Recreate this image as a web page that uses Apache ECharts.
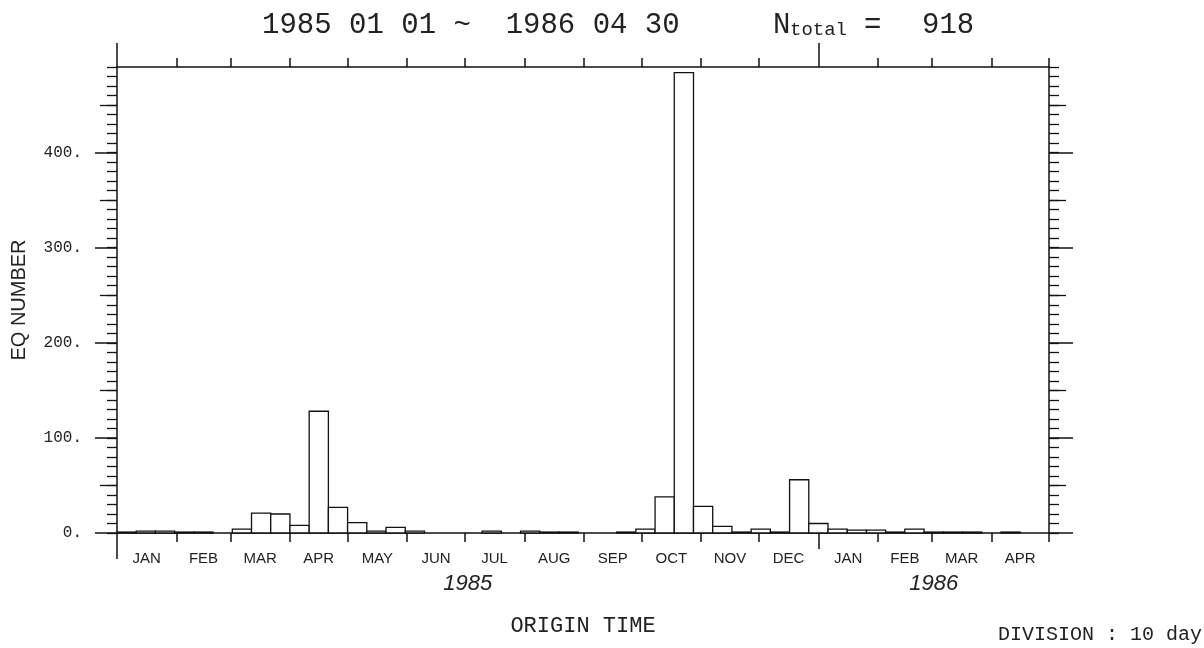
<!DOCTYPE html>
<html>
<head>
<meta charset="utf-8">
<script src="https://cdn.jsdelivr.net/npm/echarts@6/dist/echarts.min.js"></script>
<style>
html,body{margin:0;padding:0;background:#fff;}
#chart{width:1204px;height:648px;}
</style>
</head>
<body>
<div id="chart"></div>
<script>
// 10-day bins counted from 1985-01-01 (day 0) to 1986-04-30 (day 485)
const binStarts = [0,10,20,30,40,50,60,70,80,90,100,110,120,130,140,150,160,170,180,190,200,210,220,230,240,250,260,270,280,290,300,310,320,330,340,350,360,370,380,390,400,410,420,430,440,450,460,470,480];
const counts = [1,2,2,1,1,0,4,21,20,8,128,27,11,2,6,2,0,0,0,2,0,2,1,1,0,0,1,4,38,484,28,7,1,4,1,56,10,4,3,3,1,4,1,1,1,0,1,0,0];
const periodEnd = 485;
// month boundaries (days since 1985-01-01)
const monthStarts = [0,31,59,90,120,151,181,212,243,273,304,334,365,396,424,455,485];
const monthNames = ['JAN','FEB','MAR','APR','MAY','JUN','JUL','AUG','SEP','OCT','NOV','DEC','JAN','FEB','MAR','APR'];
const yearBounds = [0,365,485];
const yearNames = ['1985','1986'];
const yMajor = [0,100,200,300,400];
const yMid = [50,150,250,350,450];
const yMax = 490;

const monthMids = monthNames.map((n,i)=>(monthStarts[i]+monthStarts[i+1])/2);
const yearMids = yearNames.map((n,i)=>(yearBounds[i]+yearBounds[i+1])/2);
const barData = binStarts.map((s,i)=>[s, Math.min(s+10, periodEnd), counts[i]]);

const INK = '#111';
const mono = "'Liberation Mono','DejaVu Sans Mono',monospace";
const sans = "'Liberation Sans','DejaVu Sans',sans-serif";

function lbl(mids, names){
  return function(v){
    for (let i=0;i<mids.length;i++){ if (Math.abs(mids[i]-v)<0.01) return names[i]; }
    return '';
  };
}
function xAx(pos, opts){
  return Object.assign({
    type:'value', position:pos, min:0, max:periodEnd, gridIndex:0,
    axisLine:{show:false, onZero:false, lineStyle:{color:INK, width:1.5}},
    axisTick:{show:false},
    axisLabel:{show:false},
    splitLine:{show:false}
  }, opts);
}
function yAx(pos, opts){
  return Object.assign({
    type:'value', position:pos, min:0, max:yMax, gridIndex:0,
    axisLine:{show:false, onZero:false, lineStyle:{color:INK, width:1.5}},
    axisTick:{show:false},
    axisLabel:{show:false},
    splitLine:{show:false}
  }, opts);
}

const chart = echarts.init(document.getElementById('chart'), null, {renderer:'canvas'});
chart.setOption({
  animation:false,
  backgroundColor:'#fff',
  grid:{left:117, right:155, top:67, bottom:115, containLabel:false},
  xAxis:[
    xAx('bottom', {
      axisLine:{show:true, onZero:false, lineStyle:{color:INK, width:1.5}},
      axisTick:{show:true, customValues:monthStarts, length:9, lineStyle:{color:INK, width:1.5}},
      axisLabel:{show:true, customValues:monthMids, formatter:lbl(monthMids, monthNames), margin:18, color:'#222', fontSize:15, fontFamily:sans},
      name:'ORIGIN TIME', nameLocation:'middle', nameGap:82,
      nameTextStyle:{color:'#222', fontSize:22, fontFamily:mono}
    }),
    xAx('bottom', {
      axisTick:{show:true, customValues:[yearBounds[1]], length:16, lineStyle:{color:INK, width:1.5}},
      axisLabel:{show:true, customValues:yearMids, formatter:lbl(yearMids, yearNames), margin:40, color:'#222', fontSize:22, fontStyle:'italic', fontFamily:sans}
    }),
    xAx('bottom', {
      axisTick:{show:true, customValues:[0], length:26, lineStyle:{color:INK, width:1.5}}
    }),
    xAx('top', {
      axisLine:{show:true, onZero:false, lineStyle:{color:INK, width:1.5}},
      axisTick:{show:true, customValues:monthStarts, length:9, lineStyle:{color:INK, width:1.5}}
    }),
    xAx('top', {
      axisTick:{show:true, customValues:[0, yearBounds[1]], length:24, lineStyle:{color:INK, width:1.5}}
    })
  ],
  yAxis:[
    yAx('left', {
      axisLine:{show:true, onZero:false, lineStyle:{color:INK, width:1.5}},
      axisTick:{show:true, customValues:yMajor, length:22, lineStyle:{color:INK, width:1.5}},
      axisLabel:{show:true, customValues:yMajor, formatter:(v)=>v+'.', margin:35, color:'#222', fontSize:16, fontFamily:mono},
      name:'EQ NUMBER', nameLocation:'middle', nameGap:88,
      nameTextStyle:{color:'#222', fontSize:20, fontFamily:sans}
    }),
    yAx('left', {axisTick:{show:true, customValues:yMid, length:17, lineStyle:{color:INK, width:1.3}}}),
    yAx('left', {interval:10, axisTick:{show:true, length:10, lineStyle:{color:INK, width:1.3}}}),
    yAx('right', {
      axisLine:{show:true, onZero:false, lineStyle:{color:INK, width:1.5}},
      axisTick:{show:true, customValues:yMajor, length:24, lineStyle:{color:INK, width:1.5}}
    }),
    yAx('right', {axisTick:{show:true, customValues:yMid, length:17, lineStyle:{color:INK, width:1.3}}}),
    yAx('right', {interval:10, axisTick:{show:true, length:10, lineStyle:{color:INK, width:1.3}}})
  ],
  series:[{
    type:'custom',
    xAxisIndex:0, yAxisIndex:0,
    data:barData,
    encode:{x:[0,1], y:2},
    renderItem:function(params, api){
      const s = api.value(0), e = api.value(1), c = api.value(2);
      if (!c) return null;
      const p0 = api.coord([s, c]);
      const p1 = api.coord([e, 0]);
      return {
        type:'rect',
        shape:{x:p0[0], y:p0[1], width:p1[0]-p0[0], height:p1[1]-p0[1]},
        style:{fill:'#fff', stroke:INK, lineWidth:1.3}
      };
    }
  }],
  graphic:[
    {type:'text', x:262, y:25, style:{text:'1985 01 01 ~  1986 04 30', fontSize:29, fontFamily:mono, fill:'#222', align:'left', verticalAlign:'middle'}},
    {type:'text', x:773, y:25, style:{text:'N', fontSize:29, fontFamily:mono, fill:'#222', align:'left', verticalAlign:'middle'}},
    {type:'text', x:790, y:30, style:{text:'total', fontSize:19, fontFamily:mono, fill:'#222', align:'left', verticalAlign:'middle'}},
    {type:'text', x:864, y:25, style:{text:'=', fontSize:29, fontFamily:mono, fill:'#222', align:'left', verticalAlign:'middle'}},
    {type:'text', x:922, y:25, style:{text:'918', fontSize:29, fontFamily:mono, fill:'#222', align:'left', verticalAlign:'middle'}},
    {type:'text', x:1202, y:635, style:{text:'DIVISION : 10 day', fontSize:20, fontFamily:mono, fill:'#222', align:'right', verticalAlign:'middle'}}
  ]
});
</script>
</body>
</html>
